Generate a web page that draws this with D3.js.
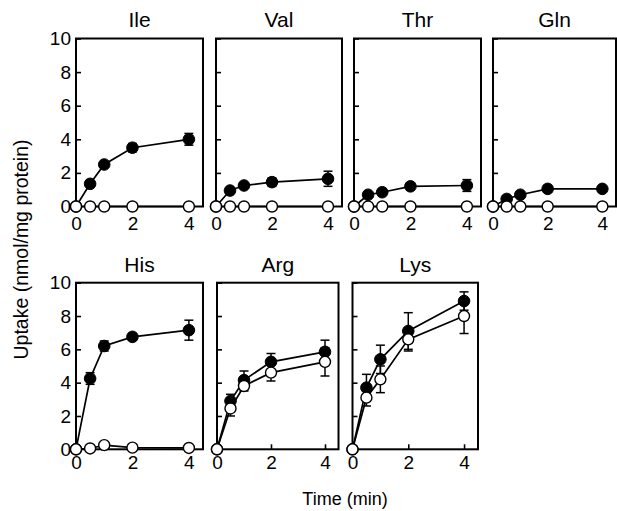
<!DOCTYPE html>
<html>
<head>
<meta charset="utf-8">
<script src="https://cdn.jsdelivr.net/npm/d3@7"></script>
<style>
  html, body { margin: 0; padding: 0; background: #fff; }
  svg { display: block; }
  text { font-family: "Liberation Sans", Arial, Helvetica, sans-serif; fill: #000; }
</style>
</head>
<body>
<script>
// ---------- data ----------
const times = [0, 0.5, 1, 2, 4];
const panelNames = ["Ile", "Val", "Thr", "Gln", "His", "Arg", "Lys"];
const yTickValues = [0, 2, 4, 6, 8, 10];
const xTickValues = [0, 2, 4];

const ileFilled    = [0, 1.35, 2.5, 3.5, 4.0];
const ileFilledErr = [0, 0.15, 0.15, 0.25, 0.35];
const ileOpen      = [0, 0, 0, 0, 0];
const ileOpenErr   = [0, 0, 0, 0, 0];

const valFilled    = [0, 0.95, 1.25, 1.45, 1.65];
const valFilledErr = [0, 0.1, 0.1, 0.25, 0.45];
const valOpen      = [0, 0, 0, 0, 0];
const valOpenErr   = [0, 0, 0, 0, 0];

const thrFilled    = [0, 0.7, 0.85, 1.2, 1.25];
const thrFilledErr = [0, 0.1, 0.1, 0.2, 0.35];
const thrOpen      = [0, 0, 0, 0, 0];
const thrOpenErr   = [0, 0, 0, 0, 0];

const glnFilled    = [0, 0.45, 0.7, 1.05, 1.05];
const glnFilledErr = [0, 0.1, 0.1, 0.2, 0.15];
const glnOpen      = [0, 0, 0, 0, 0];
const glnOpenErr   = [0, 0, 0, 0, 0];

const hisFilled    = [0, 4.25, 6.2, 6.75, 7.15];
const hisFilledErr = [0, 0.35, 0.3, 0.2, 0.6];
const hisOpen      = [0, 0.05, 0.25, 0.1, 0.08];
const hisOpenErr   = [0, 0, 0, 0, 0];

const argFilled    = [0, 2.9, 4.15, 5.25, 5.85];
const argFilledErr = [0, 0.4, 0.55, 0.5, 0.7];
const argOpen      = [0, 2.45, 3.8, 4.6, 5.25];
const argOpenErr   = [0, 0.45, 0.3, 0.5, 0.85];

const lysFilled    = [0, 3.7, 5.4, 7.1, 8.9];
const lysFilledErr = [0, 0.8, 0.85, 1.1, 0.55];
const lysOpen      = [0, 3.1, 4.2, 6.6, 8.0];
const lysOpenErr   = [0, 0.5, 0.8, 0.7, 1.05];

const filledSeries = [ileFilled, valFilled, thrFilled, glnFilled, hisFilled, argFilled, lysFilled];
const filledErrors = [ileFilledErr, valFilledErr, thrFilledErr, glnFilledErr, hisFilledErr, argFilledErr, lysFilledErr];
const openSeries   = [ileOpen, valOpen, thrOpen, glnOpen, hisOpen, argOpen, lysOpen];
const openErrors   = [ileOpenErr, valOpenErr, thrOpenErr, glnOpenErr, hisOpenErr, argOpenErr, lysOpenErr];

// ---------- layout ----------
const W = 617, H = 511;
const rows = [
  { top: 38.5, bottom: 206.5, titleY: 26.5, xLabelPad: 10.5 },
  { top: 282.7, bottom: 449.3, titleY: 272, xLabelPad: 6.5 }
];
const panelBoxes = [
  { x0: 76,  x1: 203, row: 0, yLabels: true },
  { x0: 216, x1: 342, row: 0, yLabels: false },
  { x0: 354, x1: 481, row: 0, yLabels: false },
  { x0: 493, x1: 616, row: 0, yLabels: false },
  { x0: 76,  x1: 203, row: 1, yLabels: true },
  { x0: 217, x1: 338.5, row: 1, yLabels: false },
  { x0: 352.5, x1: 478, row: 1, yLabels: false }
];

const svg = d3.select("body").append("svg")
  .attr("width", W).attr("height", H)
  .attr("viewBox", `0 0 ${W} ${H}`);
svg.append("rect").attr("width", W).attr("height", H).attr("fill", "#fff");

const tickFont = 19;
const R = 5.8;

panelNames.forEach((name, i) => {
  const box = panelBoxes[i];
  const row = rows[box.row];
  const x = d3.scaleLinear().domain([0, 4.5]).range([box.x0, box.x1]);
  const y = d3.scaleLinear().domain([0, 10]).range([row.bottom, row.top]);
  const g = svg.append("g");

  // axes (inner ticks)
  const ax = d3.axisLeft(y).tickValues(yTickValues)
    .tickSizeInner(-5).tickSizeOuter(0).tickPadding(5)
    .tickFormat(box.yLabels ? d3.format("d") : () => "");
  const gy = g.append("g").attr("transform", `translate(${box.x0},0)`).call(ax);
  const bx = d3.axisBottom(x).tickValues(xTickValues)
    .tickSizeInner(-5).tickSizeOuter(0).tickPadding(row.xLabelPad)
    .tickFormat(d3.format("d"));
  const gx = g.append("g").attr("transform", `translate(0,${row.bottom})`).call(bx);
  [gy, gx].forEach(a => {
    a.select(".domain").remove();
    a.selectAll("line").attr("stroke", "#000").attr("stroke-width", 1.6);
    a.selectAll("text").attr("font-size", tickFont)
      .attr("font-family", '"Liberation Sans", Arial, Helvetica, sans-serif')
      .attr("fill", "#000");
  });

  // frame
  g.append("rect")
    .attr("x", box.x0).attr("y", row.top)
    .attr("width", box.x1 - box.x0).attr("height", row.bottom - row.top)
    .attr("fill", "none").attr("stroke", "#000").attr("stroke-width", 2);

  // title
  g.append("text")
    .attr("x", (box.x0 + box.x1) / 2).attr("y", row.titleY)
    .attr("text-anchor", "middle").attr("font-size", 21)
    .text(name);

  const mkData = (vals, errs) => times.map((t, k) => ({ t, v: vals[k], e: errs[k] }));
  const filled = mkData(filledSeries[i], filledErrors[i]);
  const open = mkData(openSeries[i], openErrors[i]);

  const line = d3.line().x(d => x(d.t)).y(d => y(d.v));

  [filled, open].forEach(data => {
    // error bars
    const eb = g.append("g").attr("stroke", "#000").attr("stroke-width", 1.5);
    data.filter(d => d.e > 0).forEach(d => {
      const cx = x(d.t), yl = y(d.v - d.e), yh = y(d.v + d.e);
      eb.append("line").attr("x1", cx).attr("x2", cx).attr("y1", yl).attr("y2", yh);
      eb.append("line").attr("x1", cx - 4.5).attr("x2", cx + 4.5).attr("y1", yl).attr("y2", yl);
      eb.append("line").attr("x1", cx - 4.5).attr("x2", cx + 4.5).attr("y1", yh).attr("y2", yh);
    });
    g.append("path").datum(data).attr("d", line)
      .attr("fill", "none").attr("stroke", "#000").attr("stroke-width", 1.7);
  });

  g.selectAll(null).data(filled).enter().append("circle")
    .attr("cx", d => x(d.t)).attr("cy", d => y(d.v)).attr("r", R)
    .attr("fill", "#000").attr("stroke", "#000").attr("stroke-width", 1);
  g.selectAll(null).data(open).enter().append("circle")
    .attr("cx", d => x(d.t)).attr("cy", d => y(d.v)).attr("r", R - 0.3)
    .attr("fill", "#fff").attr("stroke", "#000").attr("stroke-width", 1.4);
});

// axis titles
svg.append("text")
  .attr("transform", "translate(27.5,249.5) rotate(-90)")
  .attr("text-anchor", "middle").attr("font-size", 19.5)
  .text("Uptake (nmol/mg protein)");
svg.append("text")
  .attr("x", 345).attr("y", 505)
  .attr("text-anchor", "middle").attr("font-size", 18)
  .text("Time (min)");
</script>
</body>
</html>
